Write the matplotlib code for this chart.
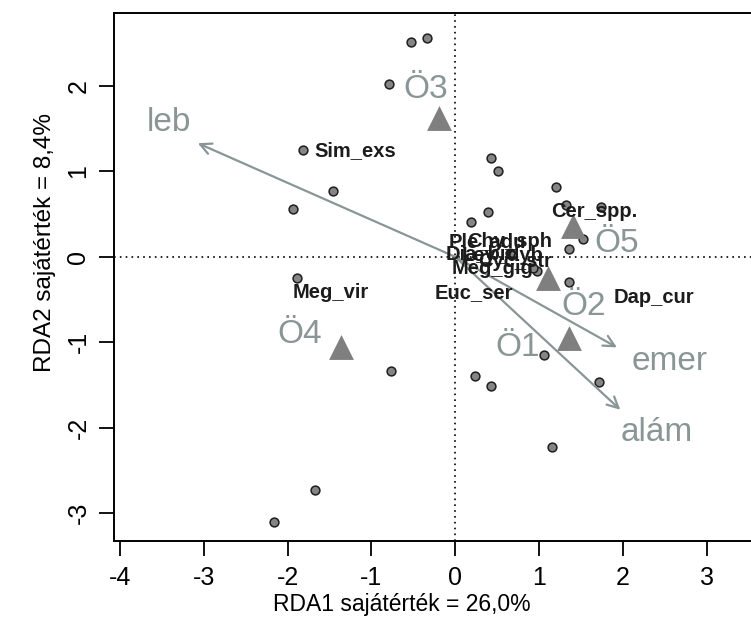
import matplotlib
matplotlib.use("Agg")
import matplotlib.pyplot as plt
from matplotlib import font_manager


def pick_font(names):
    for name in names:
        try:
            font_manager.findfont(font_manager.FontProperties(family=name),
                                  fallback_to_default=False)
            return name
        except Exception:
            continue
    return "DejaVu Sans"


FONT = pick_font(["Liberation Sans Narrow", "Liberation Sans", "Arial"])
NARROW = FONT == "Liberation Sans Narrow"
plt.rcParams["font.family"] = [FONT, "DejaVu Sans"]

# species scores (RDA1, RDA2)
sp_x = [-0.53, -0.34, -0.79, -1.81, -1.46, -1.94, -1.89, -0.76, -1.67, -2.16,
        0.24, 0.43, 0.43, 0.51, 1.20, 1.32, 0.39, 0.19, 1.53, 1.36,
        0.65, 0.97, 0.93, 1.36, 1.06, 1.71, 1.15, 1.74]
sp_y = [2.51, 2.56, 2.02, 1.25, 0.77, 0.56, -0.25, -1.34, -2.73, -3.10,
        -1.39, -1.51, 1.16, 1.00, 0.82, 0.61, 0.52, 0.41, 0.21, 0.09,
        0.04, -0.16, -0.13, -0.29, -1.15, -1.46, -2.22, 0.58]

# labelled species
lab_names = ["Sim_exs", "Meg_vir", "Euc_ser", "Cer_spp.", "Dap_cur",
             "Ple_adu", "Chy_sph", "Dia_bic", "Ley_dyb", "Cyc_str", "Meg_gig"]
lab_x = [-1.19, -1.48, 0.22, 1.66, 2.37, 0.38, 0.65, 0.31, 0.57, 0.72, 0.44]
lab_y = [1.24, -0.42, -0.42, 0.53, -0.48, 0.18, 0.18, 0.04, 0.02, -0.05, -0.14]

# site centroids
site_names = ["Ö1", "Ö2", "Ö3", "Ö4", "Ö5"]
site_x = [1.36, 1.11, -0.19, -1.36, 1.41]
site_y = [-0.95, -0.25, 1.62, -1.05, 0.36]
site_lx = [0.75, 1.53, -0.35, -1.85, 1.93]
site_ly = [-1.06, -0.58, 1.96, -0.91, 0.16]

# environmental vectors
env_names = ["leb", "emer", "alám"]
env_x = [-3.07, 1.93, 1.97]
env_y = [1.33, -1.06, -1.79]
env_lx = [-3.42, 2.56, 2.40]
env_ly = [1.57, -1.22, -2.06]

x_ticks = [-4, -3, -2, -1, 0, 1, 2, 3]
y_ticks = [-3, -2, -1, 0, 1, 2]

W, H = 751, 644
fig = plt.figure(figsize=(W / 100, H / 100), dpi=100)
left, right, top, bottom = 114, 762, 13, 541
ax = fig.add_axes([left / W, 1 - bottom / H, (right - left) / W, (bottom - top) / H])
ax.set_xlim(-4.07, (right - 455.3) / 83.8)
ax.set_ylim(-3.326, 2.854)

env_col = "#8a9696"
site_col = "#7f7f7f"

if NARROW:
    tick_fs, xlab_fs, ylab_fs, sp_fs, site_fs = 22, 20.5, 21.5, 18, 29
else:
    tick_fs, xlab_fs, ylab_fs, sp_fs, site_fs = 18, 16.5, 17.5, 14.5, 24

ax.axhline(0, color="black", lw=1.2, ls=(0, (1, 2.5)), zorder=1)
ax.axvline(0, color="black", lw=1.2, ls=(0, (1, 2.5)), zorder=1)

ax.scatter(sp_x, sp_y, s=40, facecolor="#858585", edgecolor="#1e1e1e",
           linewidth=1.1, zorder=3)

for name, x, y in zip(lab_names, lab_x, lab_y):
    ax.text(x, y, name, ha="center", va="center", fontsize=sp_fs,
            fontweight="bold", color="#1c1c1c", zorder=5)

for ex, ey in zip(env_x, env_y):
    ax.annotate("", xy=(ex, ey), xytext=(0, 0),
                arrowprops=dict(arrowstyle="->", color=env_col, lw=1.6,
                                mutation_scale=20, shrinkA=0, shrinkB=0),
                zorder=4)
for name, x, y in zip(env_names, env_lx, env_ly):
    ax.text(x, y, name, ha="center", va="center", fontsize=site_fs,
            color=env_col, zorder=6)

ax.scatter(site_x, site_y, marker="^", s=320, color=site_col, linewidth=0,
           zorder=4)
for name, x, y in zip(site_names, site_lx, site_ly):
    ax.text(x, y, name, ha="center", va="center", fontsize=site_fs,
            color=env_col, zorder=6)

ax.set_xticks(x_ticks)
ax.set_yticks(y_ticks)
ax.set_xticklabels([str(t) for t in x_ticks])
ax.set_yticklabels([str(t) for t in y_ticks], rotation=90, va="center")
ax.tick_params(axis="both", direction="out", length=11, width=1.3,
               labelsize=tick_fs, color="black")
ax.tick_params(axis="x", pad=7)
ax.tick_params(axis="y", pad=6)
for sp in ax.spines.values():
    sp.set_linewidth(1.4)

fig.text(402 / W, 1 - 604 / H, "RDA1 sajátérték = 26,0%", ha="center",
         va="center", fontsize=xlab_fs)
fig.text(45 / W, 1 - 243 / H, "RDA2 sajátérték = 8,4%", ha="center",
         va="center", rotation=90, fontsize=ylab_fs)

fig.savefig("out.png", dpi=100)
